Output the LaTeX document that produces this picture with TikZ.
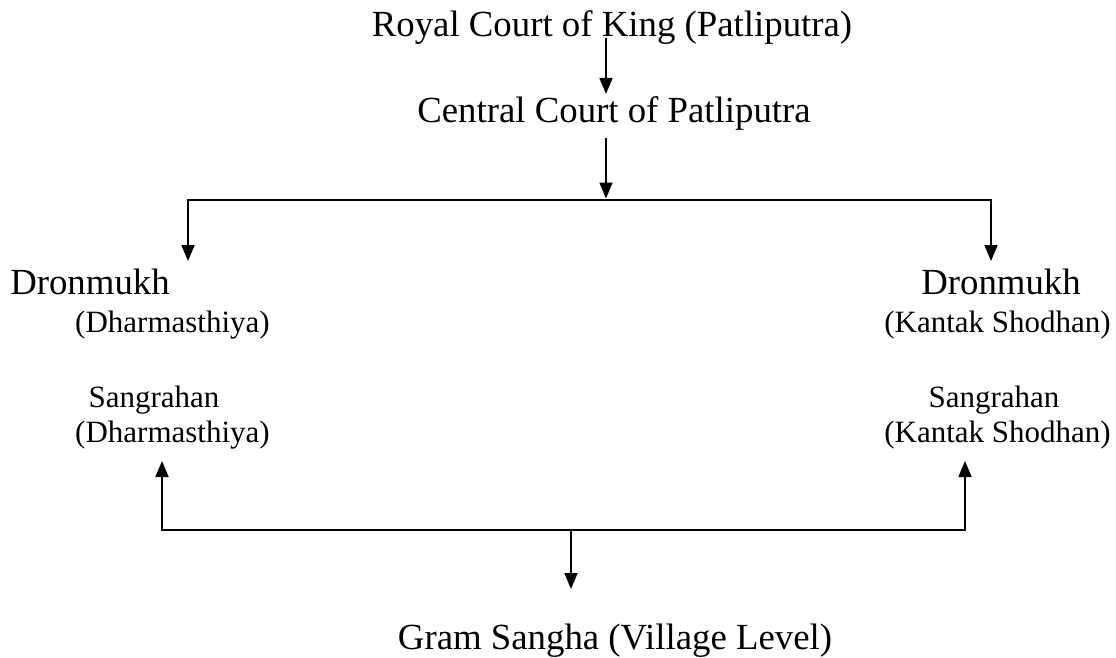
\documentclass[tikz,border=0pt]{standalone}
\usepackage{fontspec}
\setmainfont{Liberation Serif}
\usetikzlibrary{arrows.meta,calc}
\begin{document}
\begin{tikzpicture}[x=1pt,y=-1pt,
  big/.style={font=\fontsize{36.8}{40}\selectfont, inner sep=0pt, anchor=base},
  small/.style={font=\fontsize{31}{34}\selectfont, inner sep=0pt, anchor=base},
  arr/.style={line width=1.8pt, -{Triangle[length=16pt,width=13pt]}},
  ln/.style={line width=1.8pt}]
\useasboundingbox (0,0) rectangle (1116,657);
% texts
\node[big] (royal) at (612,36) {Royal Court of King (Patliputra)};
\node[big] (central) at (614,122) {Central Court of Patliputra};
\node[big] (dl) at (90,294) {Dronmukh};
\node[small] (dlsub) at (172.5,332) {(Dharmasthiya)};
\node[small] (sl) at (154,407) {Sangrahan};
\node[small] (slsub) at (172.5,442) {(Dharmasthiya)};
\node[big] (dr) at (1001,294) {Dronmukh};
\node[small] (drsub) at (997.5,332) {(Kantak Shodhan)};
\node[small] (sr) at (994,407) {Sangrahan};
\node[small] (srsub) at (997.5,442) {(Kantak Shodhan)};
\node[big] (gram) at (615,649) {Gram Sangha (Village Level)};
% junction points
\coordinate (j1) at (606,200);
\coordinate (jl) at (188,200);
\coordinate (jr) at (991,200);
\coordinate (tl) at (188,261);
\coordinate (tr) at (991,261);
\coordinate (bl) at (162,530);
\coordinate (br) at (965,530);
\coordinate (ul) at (162,461);
\coordinate (ur) at (965,461);
\coordinate (j2) at (571,530);
\coordinate (g) at (571,589);
% connectors
\draw[arr] ([yshift=-2pt]royal.base -| j1) -- ([yshift=2pt]central.north -| j1);
\draw[arr] ([yshift=-8pt]central.south -| j1) -- ([yshift=1.5pt]j1);
\draw[ln] (jl) -- (jr);
\draw[arr] ([yshift=0.9pt]jl) -- (tl);
\draw[arr] ([yshift=0.9pt]jr) -- (tr);
\draw[ln] (bl) -- (br);
\draw[arr] ([yshift=-0.9pt]bl) -- (ul);
\draw[arr] ([yshift=-0.9pt]br) -- (ur);
\draw[arr] (j2) -- (g);
\end{tikzpicture}
\end{document}
